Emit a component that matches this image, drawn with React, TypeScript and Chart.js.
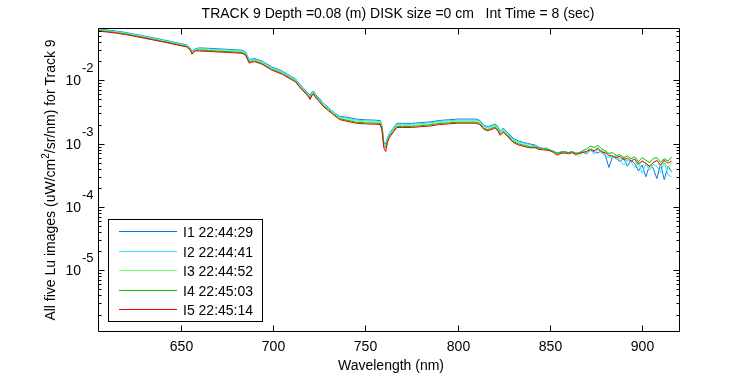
import { useEffect, useRef } from "react";
import { Chart, registerables } from "chart.js";

Chart.register(...registerables);

// ---------- data ----------
const WAVELENGTH = [
  605, 610, 615, 620, 625, 630, 635, 640, 645, 650,
  653, 655, 656, 657, 658, 660, 665, 670, 675, 680,
  683, 685, 686, 687, 688, 690, 694, 699, 705, 710,
  712, 714, 716, 718, 719, 720, 721, 722, 723, 725,
  727, 730, 733, 736, 740, 745, 750, 755, 758, 759,
  760, 761, 762, 763, 765, 767, 770, 775, 780, 785,
  790, 795, 800, 805, 810, 812, 814, 816, 818, 820,
  821, 822, 823, 824, 825, 827, 830, 833, 836, 839,
  842, 844, 846, 848, 850, 852, 854, 856, 858, 860,
  862, 864, 866, 868, 870, 872, 874, 876, 878, 880,
  882, 884, 886, 888, 890, 892, 894, 896, 898, 900,
  902, 904, 906, 908, 910, 912, 914, 916,
];

const I1 = [
  0.0649, 0.0624, 0.0599, 0.0569, 0.0534, 0.05, 0.0468, 0.0437, 0.0408, 0.0379,
  0.0363, 0.0324, 0.0287, 0.0306, 0.0315, 0.0325, 0.032, 0.0314, 0.0309, 0.0302,
  0.0299, 0.028, 0.0243, 0.0212, 0.0215, 0.0221, 0.02, 0.0164, 0.0139, 0.0114,
  0.0106, 0.009, 0.0077, 0.0067, 0.0062, 0.0058, 0.0065, 0.0067, 0.0059, 0.0052,
  0.0044, 0.0037, 0.0031, 0.0027, 0.00261, 0.00244, 0.00238, 0.00235, 0.00232, 0.0019,
  0.00102, 0.001, 0.00124, 0.00145, 0.00174, 0.00209, 0.00209, 0.00209, 0.00215, 0.0022,
  0.00232, 0.00238, 0.00244, 0.00244, 0.00244, 0.00232, 0.00197, 0.00186, 0.00191, 0.00203,
  0.00197, 0.0018, 0.00157, 0.00168, 0.00174, 0.00151, 0.00122, 0.0011, 0.00104, 0.00099,
  0.00095, 0.00088, 0.00084, 0.00085, 0.00079, 0.00076, 0.00071, 0.00074, 0.00075, 0.00072,
  0.00074, 0.00066, 0.00071, 0.00073, 0.00069, 0.0008, 0.00074, 0.00071, 0.00078, 0.00066,
  0.00042, 0.00063, 0.00058, 0.00052, 0.00059, 0.00044, 0.00054, 0.00049, 0.00037, 0.00046,
  0.0003, 0.00045, 0.00041, 0.00028, 0.00047, 0.00027, 0.00044, 0.00036,
];

const I2 = [
  0.0637, 0.0613, 0.0588, 0.0559, 0.0524, 0.0491, 0.0459, 0.0429, 0.0401, 0.0372,
  0.0356, 0.0318, 0.028, 0.03, 0.031, 0.0316, 0.0312, 0.0305, 0.0301, 0.0294,
  0.0291, 0.0273, 0.0236, 0.0206, 0.021, 0.0215, 0.0195, 0.0159, 0.0135, 0.0111,
  0.0104, 0.0087, 0.0075, 0.0065, 0.006, 0.0056, 0.0063, 0.0065, 0.0058, 0.005,
  0.0043, 0.0036, 0.0031, 0.00262, 0.00252, 0.00235, 0.0023, 0.00227, 0.00224, 0.00182,
  0.00098, 0.00095, 0.0012, 0.0014, 0.00168, 0.00202, 0.00202, 0.00202, 0.00207, 0.00213,
  0.00224, 0.0023, 0.00235, 0.00235, 0.00235, 0.00224, 0.0019, 0.00179, 0.00185, 0.00196,
  0.0019, 0.00174, 0.00151, 0.00162, 0.00168, 0.00146, 0.00118, 0.00106, 0.00101, 0.00096,
  0.00092, 0.00086, 0.00085, 0.00082, 0.00078, 0.00075, 0.0007, 0.00073, 0.00074, 0.00071,
  0.00073, 0.00068, 0.0007, 0.00074, 0.00071, 0.00079, 0.00068, 0.00082, 0.00072, 0.00064,
  0.00061, 0.00058, 0.00064, 0.00054, 0.00046, 0.00055, 0.00051, 0.00042, 0.00052, 0.00034,
  0.00048, 0.00038, 0.00047, 0.00044, 0.00035, 0.0005, 0.00032, 0.0003,
];

const I3 = [
  0.0625, 0.0601, 0.0577, 0.0548, 0.0514, 0.0482, 0.045, 0.0421, 0.0393, 0.0365,
  0.0349, 0.0312, 0.0272, 0.0293, 0.0304, 0.0307, 0.0303, 0.0297, 0.0293, 0.0286,
  0.0283, 0.0265, 0.023, 0.02, 0.0204, 0.0209, 0.019, 0.0155, 0.0131, 0.0108,
  0.0101, 0.0085, 0.0073, 0.0064, 0.0058, 0.0054, 0.0061, 0.0064, 0.0056, 0.0049,
  0.0041, 0.0035, 0.003, 0.00254, 0.00243, 0.00227, 0.00221, 0.00219, 0.00216, 0.00176,
  0.00095, 0.0009, 0.00116, 0.00136, 0.00162, 0.00194, 0.00194, 0.00194, 0.002, 0.00205,
  0.00216, 0.00221, 0.00227, 0.00227, 0.00227, 0.00216, 0.00184, 0.00173, 0.00178, 0.00189,
  0.00184, 0.00167, 0.00146, 0.00157, 0.00162, 0.0014, 0.00113, 0.00103, 0.00097, 0.00092,
  0.00089, 0.00083, 0.00084, 0.00081, 0.00079, 0.00074, 0.00068, 0.00072, 0.00073, 0.0007,
  0.00072, 0.0007, 0.00062, 0.00074, 0.00076, 0.00086, 0.00078, 0.00088, 0.0007, 0.00076,
  0.00065, 0.0006, 0.00067, 0.00057, 0.00063, 0.00052, 0.00058, 0.00056, 0.00044, 0.00054,
  0.00049, 0.00041, 0.00051, 0.00055, 0.00043, 0.00054, 0.0004, 0.0005,
];

const I4 = [
  0.0613, 0.059, 0.0566, 0.0538, 0.0504, 0.0472, 0.0442, 0.0413, 0.0386, 0.0358,
  0.0343, 0.0306, 0.0266, 0.0286, 0.0298, 0.0299, 0.0295, 0.0288, 0.0284, 0.0278,
  0.0275, 0.0258, 0.0224, 0.0194, 0.0198, 0.0203, 0.0184, 0.015, 0.0128, 0.0105,
  0.0098, 0.0082, 0.0071, 0.0062, 0.0057, 0.0052, 0.006, 0.0062, 0.0055, 0.0047,
  0.004, 0.0034, 0.0029, 0.00247, 0.00234, 0.00218, 0.00213, 0.00211, 0.00208, 0.0017,
  0.0009, 0.00085, 0.00112, 0.00131, 0.00156, 0.00187, 0.00187, 0.00187, 0.00192, 0.00198,
  0.00208, 0.00213, 0.00218, 0.00218, 0.00218, 0.00208, 0.00177, 0.00166, 0.00172, 0.00182,
  0.00177, 0.00161, 0.00141, 0.00151, 0.00156, 0.00135, 0.00109, 0.00099, 0.00094, 0.00089,
  0.00088, 0.00085, 0.00083, 0.00082, 0.0008, 0.00075, 0.0007, 0.00073, 0.00074, 0.00072,
  0.00075, 0.00071, 0.00072, 0.00078, 0.00082, 0.00092, 0.00087, 0.00094, 0.00083, 0.00077,
  0.0007, 0.00072, 0.00065, 0.00067, 0.0006, 0.00064, 0.00058, 0.00062, 0.00052, 0.0006,
  0.00055, 0.0005, 0.00058, 0.0006, 0.00051, 0.00058, 0.00053, 0.00062,
];

const I5 = [
  0.0601, 0.0578, 0.0555, 0.0527, 0.0494, 0.0463, 0.0433, 0.0405, 0.0378, 0.0351,
  0.0336, 0.03, 0.0258, 0.028, 0.0292, 0.029, 0.0286, 0.028, 0.0276, 0.027,
  0.0267, 0.025, 0.0215, 0.0186, 0.0192, 0.0197, 0.0179, 0.0146, 0.0124, 0.0102,
  0.0095, 0.008, 0.0069, 0.006, 0.0055, 0.005, 0.0058, 0.006, 0.0053, 0.0046,
  0.0039, 0.0033, 0.0028, 0.0024, 0.00225, 0.0021, 0.00205, 0.00203, 0.002, 0.0016,
  0.00085, 0.00075, 0.00105, 0.00125, 0.0015, 0.0018, 0.0018, 0.0018, 0.00185, 0.0019,
  0.002, 0.00205, 0.0021, 0.0021, 0.0021, 0.002, 0.0017, 0.0016, 0.00165, 0.00175,
  0.0017, 0.00155, 0.00135, 0.00145, 0.0015, 0.0013, 0.00105, 0.00095, 0.0009, 0.00086,
  0.00086, 0.00081, 0.0008, 0.00079, 0.00077, 0.00072, 0.00066, 0.0007, 0.00071, 0.00069,
  0.00072, 0.00068, 0.0007, 0.00073, 0.00075, 0.00081, 0.00077, 0.00084, 0.00074, 0.00072,
  0.00065, 0.00064, 0.0006, 0.00063, 0.00056, 0.00059, 0.00053, 0.00057, 0.00048, 0.00053,
  0.00049, 0.00044, 0.0005, 0.00054, 0.00046, 0.00055, 0.00049, 0.00053,
];

const SERIES = [I1, I2, I3, I4, I5];
const SERIES_LABELS = ["I1 22:44:29", "I2 22:44:41", "I3 22:44:52", "I4 22:45:03", "I5 22:45:14"];
const SERIES_COLORS = ["#0a78e6", "#2ee6f5", "#72ff72", "#00bf00", "#f00000"];

const X_TICKS = [650, 700, 750, 800, 850, 900];
const Y_DECADES = [-2, -3, -4, -5];
const X_MIN = 605;
const X_MAX = 920;
const Y_MIN = 1.1e-6;
const Y_MAX = 0.067;

const TITLE = "TRACK 9 Depth =0.08 (m) DISK size =0 cm   Int Time = 8 (sec)";
const X_TITLE = "Wavelength (nm)";
const Y_TITLE_PARTS = ["All five Lu images (uW/cm", "2", "/sr/nm) for Track 9"];

const FONT = '"Liberation Sans", Arial, Helvetica, sans-serif';

const matlabPlugin = {
  id: "matlabAxes",
  afterDraw(chart: any) {
    const { ctx, chartArea: a, scales } = chart;
    const x = scales.x;
    const y = scales.y;
    const L = Math.round(a.left) + 0.5;
    const R = Math.round(a.right) + 0.5;
    const T = Math.round(a.top) + 0.5;
    const B = Math.round(a.bottom) + 0.5;
    ctx.save();
    ctx.strokeStyle = "#000";
    ctx.fillStyle = "#000";
    ctx.lineWidth = 1;

    // box
    ctx.beginPath();
    ctx.moveTo(L, T);
    ctx.lineTo(R, T);
    ctx.lineTo(R, B);
    ctx.lineTo(L, B);
    ctx.closePath();
    ctx.stroke();

    // x ticks + labels
    ctx.font = "14px " + FONT;
    ctx.textAlign = "center";
    ctx.textBaseline = "alphabetic";
    for (const t of X_TICKS) {
      const px = Math.round(x.getPixelForValue(t)) + 0.5;
      ctx.beginPath();
      ctx.moveTo(px, B);
      ctx.lineTo(px, B - 6);
      ctx.moveTo(px, T);
      ctx.lineTo(px, T + 6);
      ctx.stroke();
      ctx.fillText(String(t), px, B + 19);
    }

    // y ticks (log): majors and minors
    for (let e = -7; e <= 0; e++) {
      for (let m = 1; m <= 9; m++) {
        const v = m * Math.pow(10, e);
        if (v < Y_MIN || v > Y_MAX) continue;
        const py = Math.round(y.getPixelForValue(v)) + 0.5;
        const len = m === 1 ? 6 : 3;
        ctx.beginPath();
        ctx.moveTo(L, py);
        ctx.lineTo(L + len, py);
        ctx.moveTo(R, py);
        ctx.lineTo(R - len, py);
        ctx.stroke();
      }
    }
    // y labels 10^e
    for (const e of Y_DECADES) {
      const py = y.getPixelForValue(Math.pow(10, e));
      ctx.font = "14px " + FONT;
      ctx.textAlign = "right";
      ctx.fillText("10", 81, py + 5);
      ctx.font = "13px " + FONT;
      ctx.textAlign = "left";
      ctx.fillText(String(e), 82, py - 8);
    }

    // title
    ctx.font = "14px " + FONT;
    ctx.textAlign = "center";
    ctx.fillText(TITLE, 398, 18);
    // x title
    ctx.fillText(X_TITLE, 391, 370);

    // y title, rotated, with superscript 2
    ctx.save();
    ctx.translate(55, 180);
    ctx.rotate(-Math.PI / 2);
    ctx.textAlign = "left";
    const bigFont = "14px " + FONT;
    const supFont = "10px " + FONT;
    ctx.font = bigFont;
    const w0 = ctx.measureText(Y_TITLE_PARTS[0]).width;
    const w2 = ctx.measureText(Y_TITLE_PARTS[2]).width;
    ctx.font = supFont;
    const w1 = ctx.measureText(Y_TITLE_PARTS[1]).width;
    let cx = -(w0 + w1 + w2) / 2;
    ctx.font = bigFont;
    ctx.fillText(Y_TITLE_PARTS[0], cx, 0);
    cx += w0;
    ctx.font = supFont;
    ctx.fillText(Y_TITLE_PARTS[1], cx, -6);
    cx += w1;
    ctx.font = bigFont;
    ctx.fillText(Y_TITLE_PARTS[2], cx, 0);
    ctx.restore();

    // legend
    const lx = 108.5, ly = 219.5, lw = 154, lh = 102;
    ctx.fillStyle = "#fff";
    ctx.fillRect(lx, ly, lw, lh);
    ctx.strokeStyle = "#000";
    ctx.strokeRect(lx, ly, lw, lh);
    ctx.font = "14px " + FONT;
    ctx.textAlign = "left";
    SERIES_LABELS.forEach((label, i) => {
      const yy = Math.round(231 + i * 19.6) + 0.5;
      ctx.strokeStyle = SERIES_COLORS[i];
      ctx.beginPath();
      ctx.moveTo(119, yy);
      ctx.lineTo(177, yy);
      ctx.stroke();
      ctx.fillStyle = "#000";
      ctx.fillText(label, 183, yy + 5);
    });

    ctx.restore();
  },
};

export default function App() {
  const ref = useRef<HTMLCanvasElement>(null);
  useEffect(() => {
    const canvas = ref.current;
    if (!canvas) return;
    const chart = new Chart(canvas, {
      type: "line",
      data: {
        datasets: SERIES.map((arr, i) => ({
          label: SERIES_LABELS[i],
          data: WAVELENGTH.map((w, j) => ({ x: w, y: arr[j] })),
          borderColor: SERIES_COLORS[i],
          backgroundColor: SERIES_COLORS[i],
          borderWidth: 1,
          pointRadius: 0,
          tension: 0,
          fill: false,
          order: SERIES.length - 1 - i,
        })),
      },
      options: {
        animation: false,
        responsive: false,
        devicePixelRatio: 1,
        layout: { padding: { left: 98, right: 71, top: 28, bottom: 44 } },
        scales: {
          x: { type: "linear", min: X_MIN, max: X_MAX, display: false },
          y: { type: "logarithmic", min: Y_MIN, max: Y_MAX, display: false },
        },
        plugins: {
          legend: { display: false },
          tooltip: { enabled: false },
          title: { display: false },
        },
      },
      plugins: [matlabPlugin],
    });
    return () => chart.destroy();
  }, []);
  return (
    <div style={{ position: "fixed", left: 0, top: 0, width: 750, height: 375, background: "#fff" }}>
      <canvas ref={ref} width={750} height={375} style={{ width: 750, height: 375, display: "block" }} />
    </div>
  );
}
